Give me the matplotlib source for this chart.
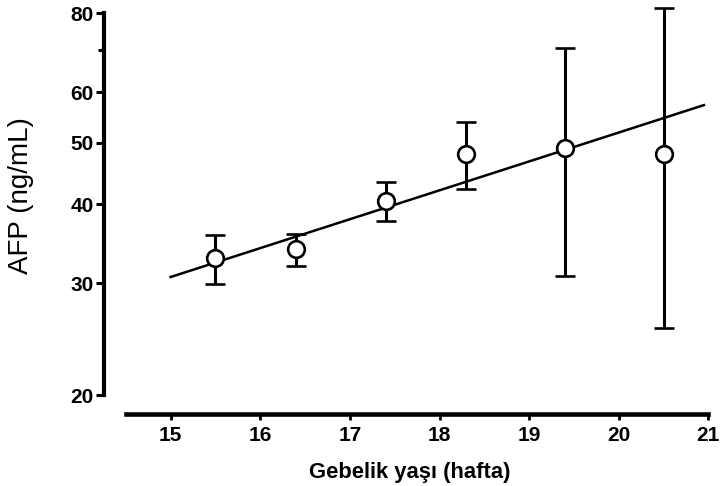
import matplotlib
matplotlib.use("Agg")
import matplotlib.pyplot as plt
from matplotlib.ticker import FixedLocator, FixedFormatter, NullFormatter
import numpy as np

# ---- data ----
weeks = [15.5, 16.4, 17.4, 18.3, 19.4, 20.5]
afp_mean = [32.9, 34.0, 40.5, 48.0, 49.0, 47.9]
afp_upper = [35.8, 35.9, 43.4, 53.9, 70.5, 81.5]
afp_lower = [29.9, 32.0, 37.6, 42.2, 30.8, 25.5]
fit_x = [15.0, 20.95]
fit_y = [30.7, 57.3]
y_ticks = [20, 30, 40, 50, 60, 80]
y_minor = [70]
x_ticks = [15, 16, 17, 18, 19, 20, 21]

plt.rcParams['font.family'] = ['Liberation Sans', 'DejaVu Sans']

fig = plt.figure(figsize=(7.22, 4.86), dpi=100)
ax = fig.add_axes([0.1440, 0.1481, 0.8421, 0.8416])

ax.set_yscale('log')
ax.set_xlim(14.256, 21.04)
ax.set_ylim(18.67, 82.4)

mean = np.array(afp_mean)
yerr = [mean - np.array(afp_lower), np.array(afp_upper) - mean]

ax.plot(fit_x, fit_y, color='black', lw=1.8, zorder=2)
ax.errorbar(weeks, afp_mean, yerr=yerr, fmt='o', color='black',
            ecolor='black', elinewidth=2.2, capsize=7, capthick=2.4,
            markersize=12, markerfacecolor='white', markeredgecolor='black',
            markeredgewidth=1.9, zorder=3)

# spines
for s in ['top', 'right']:
    ax.spines[s].set_visible(False)
ax.spines['left'].set_linewidth(3.0)
ax.spines['bottom'].set_linewidth(3.3)
ax.spines['left'].set_bounds(20, 80)
ax.spines['bottom'].set_bounds(14.5, 21)

# y ticks
ax.yaxis.set_major_locator(FixedLocator(y_ticks))
ax.yaxis.set_major_formatter(FixedFormatter([str(v) for v in y_ticks]))
ax.yaxis.set_minor_locator(FixedLocator(y_minor))
ax.yaxis.set_minor_formatter(NullFormatter())
ax.tick_params(axis='y', which='major', direction='out', length=6, width=2.2,
               pad=1.5, labelsize=15)
ax.tick_params(axis='y', which='minor', direction='out', length=4.5, width=2.2)
for lab in ax.get_yticklabels():
    lab.set_fontweight('bold')

# x ticks
ax.set_xticks(x_ticks)
ax.set_xticklabels([str(v) for v in x_ticks], fontweight='bold')
ax.tick_params(axis='x', which='major', direction='out', length=4.5, width=2.0,
               pad=4, labelsize=15)
ax.xaxis.set_minor_locator(FixedLocator([]))

ax.set_ylabel('AFP (ng/mL)', fontsize=20, va='center')
ax.yaxis.set_label_coords(-0.137, 0.533)
ax.set_xlabel('Gebelik yaşı (hafta)', fontsize=15.8, fontweight='bold', va='center')
ax.xaxis.set_label_coords(0.503, -0.142)

fig.savefig('out.png', dpi=100)
